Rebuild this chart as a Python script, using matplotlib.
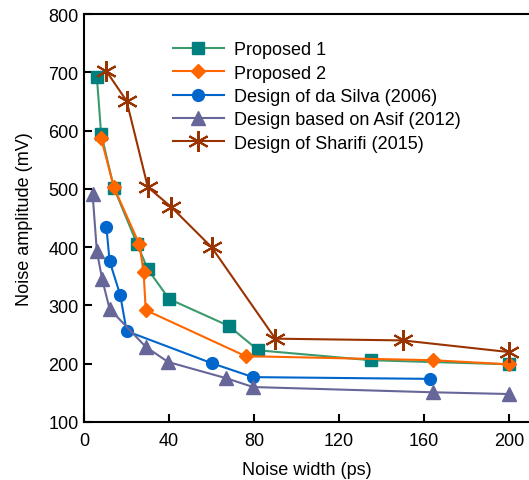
import matplotlib.pyplot as plt

plt.rcParams['font.family'] = ['Liberation Sans', 'DejaVu Sans']

# data
p1_x = [6, 8, 14, 25, 30, 40, 68, 82, 135, 200]
p1_y = [692, 595, 502, 405, 362, 311, 265, 223, 206, 199]

p2_x = [8, 14, 26, 28, 29, 76, 164, 200]
p2_y = [587, 503, 405, 358, 292, 213, 206, 199]

silva_x = [10.5, 12, 17, 20, 60, 79.5, 163]
silva_y = [434, 376, 318, 256, 201, 177, 174]

asif_x = [4, 6, 8.5, 12, 29, 39.5, 67, 79.5, 164, 200]
asif_y = [491, 393, 345, 294, 229, 203, 175, 160, 151, 148]

sharifi_x = [10.5, 20, 30, 41, 60, 90, 150, 200]
sharifi_y = [702, 651, 503, 469, 400, 243, 240, 220]

fig = plt.figure(figsize=(5.29, 4.81), dpi=100)
ax = fig.add_axes([0.159, 0.1206, 0.841, 0.848])

ax.plot(p1_x, p1_y, color='#3a9a6e', lw=1.5, marker='s', ms=9,
        mfc='#007f7f', mec='#007f7f', label='Proposed 1')
ax.plot(p2_x, p2_y, color='#ff6600', lw=1.5, marker='D', ms=7.5,
        mfc='#ff6600', mec='#ff6600', label='Proposed 2')
ax.plot(silva_x, silva_y, color='#0066cc', lw=1.5, marker='o', ms=8.5,
        label='Design of da Silva (2006)')
ax.plot(asif_x, asif_y, color='#666699', lw=1.5, marker='^', ms=9.5,
        label='Design based on Asif (2012)')
ax.plot(sharifi_x, sharifi_y, color='#993300', lw=1.5, marker=(6, 2, 0), ms=15,
        mew=1.5, label='Design of Sharifi (2015)')

ax.set_xlim(0, 209.4)
ax.set_ylim(100, 800)
ax.set_xticks([0, 40, 80, 120, 160, 200])
ax.set_yticks([100, 200, 300, 400, 500, 600, 700, 800])
ax.tick_params(direction='in', length=6, width=1.5, labelsize=13, pad=4)
ax.tick_params(axis='x', pad=7)
ax.spines['right'].set_visible(False)
for s in ['left', 'bottom', 'top']:
    ax.spines[s].set_linewidth(1.5)

ax.set_xlabel('Noise width (ps)', fontsize=13, labelpad=9)
ax.set_ylabel('Noise amplitude (mV)', fontsize=13, labelpad=11)

ax.legend(loc='upper left', bbox_to_anchor=(0.18, 0.955), frameon=False,
          fontsize=13, handlelength=2.8, handletextpad=0.55,
          labelspacing=0.35, borderpad=0)

fig.savefig('out.png', dpi=100, facecolor='white')
